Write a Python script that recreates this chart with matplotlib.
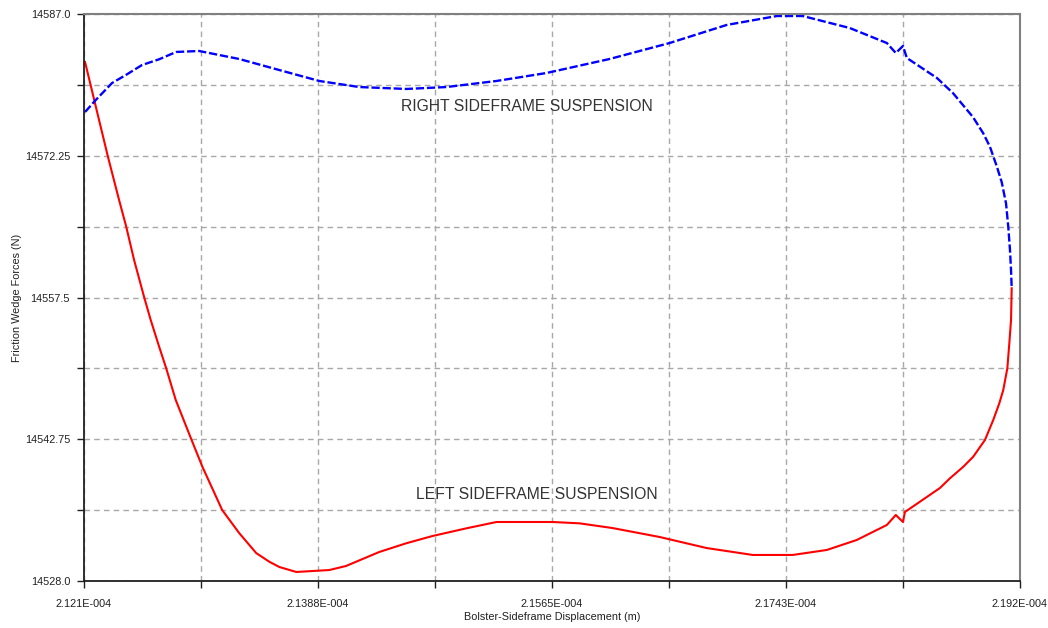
import numpy as np
import matplotlib.pyplot as plt

# bolster-sideframe displacement (x 1e-4 m) and friction wedge force (N)
left_disp = [2.12108, 2.12282, 2.12366, 2.12419, 2.12480, 2.12556, 2.12606, 2.12670,
             2.12723, 2.12796, 2.12913, 2.12998, 2.13148, 2.13277, 2.13406, 2.13505,
             2.13581, 2.13710, 2.13960, 2.14087, 2.14340, 2.14543, 2.14743, 2.15000,
             2.15229, 2.15654, 2.15859, 2.16109, 2.16466, 2.16823, 2.17173, 2.17476,
             2.17735, 2.17962, 2.18190, 2.18258, 2.18312, 2.18327, 2.18593, 2.18669,
             2.18770, 2.18845, 2.18934, 2.18997, 2.19043, 2.19073, 2.19104, 2.19119,
             2.19132, 2.19137]
left_force = [14582.00, 14572.12, 14567.65, 14564.94, 14561.40, 14557.55, 14555.16, 14552.38,
              14550.16, 14546.83, 14542.78, 14539.89, 14535.39, 14532.99, 14530.91, 14530.01,
              14529.46, 14528.94, 14529.14, 14529.56, 14531.02, 14531.92, 14532.68, 14533.48,
              14534.14, 14534.14, 14534.00, 14533.51, 14532.58, 14531.43, 14530.71, 14530.71,
              14531.23, 14532.27, 14533.83, 14534.87, 14534.14, 14535.18, 14537.68, 14538.69,
              14539.89, 14540.93, 14542.67, 14544.75, 14546.49, 14547.87, 14550.13, 14552.73,
              14555.16, 14558.46]

right_disp = [2.12108, 2.12189, 2.12313, 2.12417, 2.12540, 2.12670, 2.12799, 2.12973,
              2.13277, 2.13581, 2.13885, 2.14188, 2.14545, 2.14849, 2.15229, 2.15608,
              2.16087, 2.16542, 2.16975, 2.17355, 2.17552, 2.17909, 2.18190, 2.18258,
              2.18312, 2.18342, 2.18570, 2.18691, 2.18843, 2.18921, 2.18972, 2.19023,
              2.19061, 2.19094, 2.19111, 2.19124, 2.19132, 2.19137]
right_force = [14576.80, 14578.05, 14579.82, 14580.65, 14581.69, 14582.29, 14583.05, 14583.15,
               14582.32, 14581.17, 14580.03, 14579.40, 14579.20, 14579.40, 14580.03, 14580.86,
               14582.32, 14583.98, 14585.86, 14586.79, 14586.79, 14585.54, 14583.98, 14582.94,
               14583.67, 14582.42, 14580.34, 14578.78, 14576.28, 14574.59, 14573.19, 14571.18,
               14569.52, 14567.30, 14564.87, 14562.44, 14560.36, 14558.46]

x_min, x_max = 2.121e-4, 2.192e-4
y_min, y_max = 14528.0, 14587.0
x_labels = ['2.121E-004', '2.1388E-004', '2.1565E-004', '2.1743E-004', '2.192E-004']
y_labels = ['14528.0', '14542.75', '14557.5', '14572.25', '14587.0']

plt.rcParams['font.family'] = ['Liberation Sans', 'DejaVu Sans']

fig = plt.figure(figsize=(10.48, 6.28), dpi=100)
ax = fig.add_axes([84 / 1048, 1 - 581 / 628, 936 / 1048, 567 / 628])

ax.plot(np.array(left_disp) * 1e-4, left_force, color='#ff0000', lw=1.5)
ax.plot(np.array(right_disp) * 1e-4, right_force, color='#0000ff', lw=1.7,
        linestyle=(0, (3.5, 1.2)))

ax.set_xlim(x_min, x_max)
ax.set_ylim(y_min, y_max)

xt = np.linspace(x_min, x_max, 9)
yt = np.linspace(y_min, y_max, 9)
ax.set_xticks(xt)
ax.set_yticks(yt)
ax.set_xticklabels([x_labels[i // 2] if i % 2 == 0 else '' for i in range(9)])
ax.set_yticklabels([y_labels[i // 2] if i % 2 == 0 else '' for i in range(9)])
ax.tick_params(direction='out', length=5, width=1, color='#202020',
               labelsize=7.8, labelcolor='#202020')
ax.tick_params(axis='x', pad=8)
ax.tick_params(axis='y', pad=5)

ax.grid(True, color='#a8a8a8', lw=1, linestyle=(0, (4, 3)))
ax.set_axisbelow(True)

for s in ['left', 'bottom']:
    ax.spines[s].set_color('#202020')
    ax.spines[s].set_linewidth(1.3)
for s in ['top', 'right']:
    ax.spines[s].set_color('#808080')
    ax.spines[s].set_linewidth(1.5)

ax.set_xlabel('Bolster-Sideframe Displacement (m)', fontsize=7.8, color='#202020', labelpad=2)
ax.set_ylabel('Friction Wedge Forces (N)', fontsize=7.8, color='#202020', labelpad=2)

ax.text(2.15456e-4, 14577.4, 'RIGHT SIDEFRAME SUSPENSION', fontsize=11.3,
        color='#333333', ha='center', va='center')
ax.text(2.15532e-4, 14537.0, 'LEFT SIDEFRAME SUSPENSION', fontsize=11.3,
        color='#333333', ha='center', va='center')

fig.savefig('out.png', dpi=100)
